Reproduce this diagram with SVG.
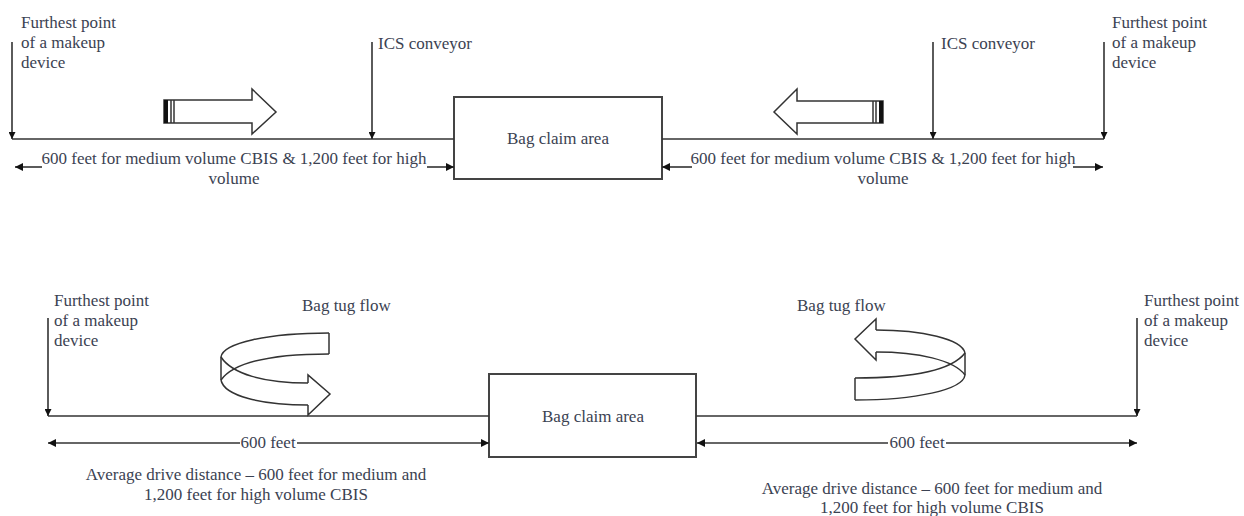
<svg xmlns="http://www.w3.org/2000/svg" width="1244" height="516" viewBox="0 0 1244 516">
<style>
text{font-family:"Liberation Serif","Times New Roman",serif;font-size:17px;fill:#3b4252}
.ln{stroke:#333;stroke-width:1.6;fill:none}
.box{stroke:#444;stroke-width:2;fill:#fff}
.shape{stroke:#333;stroke-width:1.5;fill:none}
.blk{stroke:#333;stroke-width:1.5;fill:#fff}
.mid{text-anchor:middle}
</style>
<defs>
<marker id="ah" viewBox="0 0 10 10" refX="10" refY="5" markerWidth="10" markerHeight="8" markerUnits="userSpaceOnUse" orient="auto-start-reverse">
<path d="M0,0 L10,5 L0,10 z" fill="#111"/>
</marker>
<marker id="av" viewBox="0 0 10 10" refX="10" refY="5" markerWidth="8" markerHeight="7" markerUnits="userSpaceOnUse" orient="auto">
<path d="M0,0 L10,5 L0,10 z" fill="#111"/>
</marker>
</defs>

<!-- TOP SECTION -->
<g id="top-claim">
<rect class="box" x="454" y="97" width="208" height="82"/>
<text class="mid" x="558" y="144">Bag claim area</text>
</g>
<g id="top-left-furthest">
<text x="21" y="28">Furthest point</text>
<text x="21" y="48">of a makeup</text>
<text x="21" y="68">device</text>
</g>
<g id="top-left-ics">
<text x="378" y="49">ICS conveyor</text>
</g>
<g id="top-right-ics">
<text x="941" y="49">ICS conveyor</text>
</g>
<g id="top-right-furthest">
<text x="1112" y="28">Furthest point</text>
<text x="1112" y="48">of a makeup</text>
<text x="1112" y="68">device</text>
</g>
<g id="top-left-flow">
<path class="blk" d="M164,100 L252,100 L252,89 L276,112 L252,134 L252,123 L164,123 Z"/>
<rect x="164" y="100" width="4" height="23" fill="#111"/>
<line class="shape" x1="171" y1="100" x2="171" y2="123"/>
<line class="shape" x1="174" y1="100" x2="174" y2="123"/>
</g>
<g id="top-right-flow">
<path class="blk" d="M883,101 L797,101 L797,89 L774,112 L797,134 L797,123 L883,123 Z"/>
<rect x="879" y="101" width="4" height="22" fill="#111"/>
<line class="shape" x1="873" y1="101" x2="873" y2="123"/>
<line class="shape" x1="876" y1="101" x2="876" y2="123"/>
</g>
<g id="top-left-dim">
<text class="mid" x="234" y="164">600 feet for medium volume CBIS &amp; 1,200 feet for high</text>
<text class="mid" x="234" y="184">volume</text>
</g>
<g id="top-right-dim">
<text class="mid" x="883" y="164">600 feet for medium volume CBIS &amp; 1,200 feet for high</text>
<text class="mid" x="883" y="184">volume</text>
</g>

<!-- BOTTOM SECTION -->
<g id="bottom-claim">
<rect class="box" x="489" y="374" width="207" height="83"/>
<text class="mid" x="593" y="422">Bag claim area</text>
</g>
<g id="bottom-left-furthest">
<text x="54" y="306">Furthest point</text>
<text x="54" y="326">of a makeup</text>
<text x="54" y="346">device</text>
</g>
<g id="bottom-right-furthest">
<text x="1144" y="306">Furthest point</text>
<text x="1144" y="326">of a makeup</text>
<text x="1144" y="346">device</text>
</g>
<g id="bottom-left-tug">
<text x="302" y="311">Bag tug flow</text>
<path class="shape" d="M329,333 C268,333 223,343 221,357"/>
<path class="shape" d="M329,354 C272,354 234,362 221,380"/>
<path class="shape" d="M221,357 C232,374 264,383 308,383"/>
<path class="shape" d="M221,380 C224,396 262,405 308,405"/>
<path class="shape" d="M329,333 L329,354"/>
<path class="shape" d="M221,357 L221,380"/>
<path class="shape" d="M308,383 L308,375 L330,394 L308,415 L308,405"/>
</g>
<g id="bottom-right-tug">
<text x="797" y="311">Bag tug flow</text>
<path class="shape" d="M855,378 C912,378 952,370 965,353"/>
<path class="shape" d="M855,400 C915,400 963,390 965,375"/>
<path class="shape" d="M965,353 C962,339 922,330 876,330"/>
<path class="shape" d="M965,375 C954,360 918,352 876,352"/>
<path class="shape" d="M855,378 L855,400"/>
<path class="shape" d="M965,353 L965,375"/>
<path class="shape" d="M876,330 L876,319 L855,339 L876,360 L876,352"/>
</g>
<g id="bottom-left-dim">
<text class="mid" x="268" y="448">600 feet</text>
<text class="mid" x="256" y="480">Average drive distance – 600 feet for medium and</text>
<text class="mid" x="256" y="500">1,200 feet for high volume CBIS</text>
</g>
<g id="bottom-right-dim">
<text class="mid" x="917" y="448">600 feet</text>
<text class="mid" x="932" y="494">Average drive distance – 600 feet for medium and</text>
<text class="mid" x="932" y="513">1,200 feet for high volume CBIS</text>
</g>

<!-- CONNECTORS -->
<g id="connectors">
<line class="ln" x1="12" y1="139" x2="454" y2="139"/>
<line class="ln" x1="662" y1="139" x2="1104" y2="139"/>
<line class="ln" x1="12" y1="42" x2="12" y2="139" marker-end="url(#av)"/>
<line class="ln" x1="372" y1="42" x2="372" y2="139" marker-end="url(#av)"/>
<line class="ln" x1="933" y1="42" x2="933" y2="139" marker-end="url(#av)"/>
<line class="ln" x1="1104" y1="42" x2="1104" y2="139" marker-end="url(#av)"/>
<line class="ln" x1="15" y1="167" x2="42" y2="167" marker-start="url(#ah)"/>
<line class="ln" x1="427" y1="167" x2="454" y2="167" marker-end="url(#ah)"/>
<line class="ln" x1="662" y1="167" x2="692" y2="167" marker-start="url(#ah)"/>
<line class="ln" x1="1073" y1="167" x2="1103" y2="167" marker-end="url(#ah)"/>

<line class="ln" x1="48" y1="416" x2="489" y2="416"/>
<line class="ln" x1="696" y1="416" x2="1137" y2="416"/>
<line class="ln" x1="48" y1="318" x2="48" y2="416" marker-end="url(#av)"/>
<line class="ln" x1="1137" y1="318" x2="1137" y2="416" marker-end="url(#av)"/>
<line class="ln" x1="48" y1="443" x2="240" y2="443" marker-start="url(#ah)"/>
<line class="ln" x1="297" y1="443" x2="489" y2="443" marker-end="url(#ah)"/>
<line class="ln" x1="697" y1="443" x2="888" y2="443" marker-start="url(#ah)"/>
<line class="ln" x1="946" y1="443" x2="1137" y2="443" marker-end="url(#ah)"/>
</g>
</svg>
